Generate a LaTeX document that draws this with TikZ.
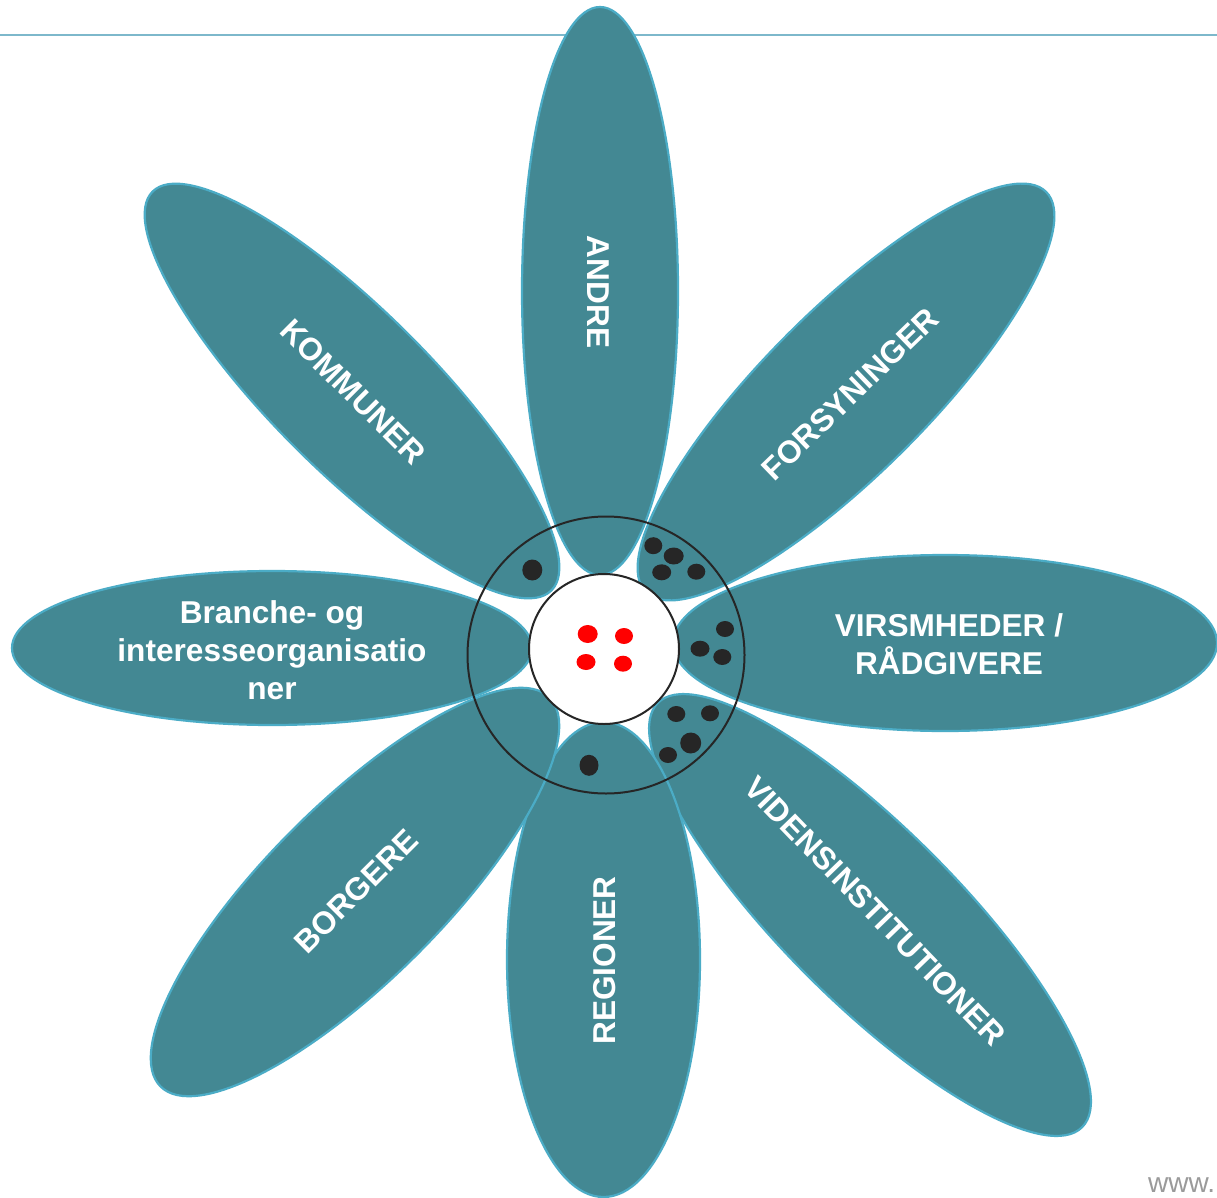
\documentclass[tikz,border=0pt]{standalone}
\usepackage{fontspec}
\setmainfont{Liberation Sans}
\usetikzlibrary{shapes.geometric}
\definecolor{petalfill}{HTML}{438893}
\definecolor{petaledge}{HTML}{4BACC6}
\definecolor{dotdark}{HTML}{262626}
\definecolor{toplinec}{HTML}{7DB8CB}
\definecolor{wwwgray}{HTML}{9A9A9A}
\begin{document}
\begin{tikzpicture}[x=1pt,y=-1pt,
  petal/.style={ellipse, fill=petalfill, draw=petaledge, line width=2.2pt, inner sep=0pt, outer sep=0pt},
  lbl/.style={text=white, font=\fontsize{31.6}{38}\selectfont\bfseries, align=center, inner sep=0pt},
  ring/.style={circle, draw=dotdark, line width=2pt, inner sep=0pt},
  bdot/.style={fill=dotdark},
  rdot/.style={fill=red}]
\useasboundingbox (0,0) rectangle (1217,1198);
\fill[white] (0,0) rectangle (1217,1198);
% top rule
\coordinate (lineL) at (0,35);
\coordinate (lineR) at (1217,35);
\draw[toplinec, line width=1.5pt] (lineL) -- (lineR);
% petals
\node[petal, minimum width=568pt, minimum height=156pt, rotate=90] (andre) at (600,291) {};
\node[petal, minimum width=566pt, minimum height=164pt, rotate=45] (forsyn) at (846,392) {};
\node[petal, minimum width=544pt, minimum height=176pt] (virs) at (945,643) {};
\node[petal, minimum width=600pt, minimum height=174pt, rotate=-45] (viden) at (870,915) {};
\node[petal, minimum width=475pt, minimum height=193pt, rotate=90] (region) at (603.5,959.5) {};
\node[petal, minimum width=550pt, minimum height=176pt, rotate=45] (borg) at (355,892) {};
\node[petal, minimum width=520pt, minimum height=154pt] (bran) at (272,648) {};
\node[petal, minimum width=564pt, minimum height=160pt, rotate=-45] (komm) at (352,391) {};
% rings
\node[ring, minimum size=277pt] (outer) at (606,655) {};
\node[ring, fill=white, minimum size=150pt] (inner) at (604,649) {};
% red dots
\fill[rdot] (587.7,634) ellipse [x radius=10, y radius=9];
\fill[rdot] (624,636) ellipse [x radius=9, y radius=8];
\fill[rdot] (586,662) ellipse [x radius=9.5, y radius=8];
\fill[rdot] (623,663.7) ellipse [x radius=9, y radius=8];
% black dots
\fill[bdot] (532.3,570) ellipse [x radius=10, y radius=10.5];
\fill[bdot] (653.3,545.7) ellipse [x radius=9, y radius=8.5];
\fill[bdot] (673.7,556) ellipse [x radius=10, y radius=8.5];
\fill[bdot] (661.7,572.3) ellipse [x radius=9.5, y radius=8];
\fill[bdot] (696.3,571.7) ellipse [x radius=9, y radius=8];
\fill[bdot] (725,629) ellipse [x radius=9, y radius=8];
\fill[bdot] (700,648.7) ellipse [x radius=9.5, y radius=8];
\fill[bdot] (722.3,657) ellipse [x radius=9, y radius=8];
\fill[bdot] (676.3,714) ellipse [x radius=9, y radius=8];
\fill[bdot] (710,713.3) ellipse [x radius=9, y radius=8];
\fill[bdot] (690.7,743) ellipse [x radius=10.5, y radius=10.5];
\fill[bdot] (668,755) ellipse [x radius=9, y radius=8];
\fill[bdot] (589,765.3) ellipse [x radius=9.5, y radius=10.5];
% labels
\node[lbl, rotate=-90] (andreL) at (598,292) {ANDRE};
\node[lbl, rotate=44] (forsynL) at (850,394) {FORSYNINGER};
\node[lbl, rotate=-45] (kommL) at (353,392) {KOMMUNER};
\node[lbl] (branL) at (272,650) {Branche- og\\interesseorganisatio\\ner};
\node[lbl] (virsL) at (949,644) {VIRSMHEDER /\\RÅDGIVERE};
\node[lbl, rotate=45] (borgL) at (356,891) {BORGERE};
\node[lbl, rotate=90] (regionL) at (604.5,960.5) {REGIONER};
\node[lbl, rotate=-46] (vidL) at (875,911) {VIDENSINSTITUTIONER};
\node[anchor=base west, text=wwwgray, font=\fontsize{28}{30}\selectfont, inner sep=0pt] (www) at (1148,1192) {www.};
\end{tikzpicture}
\end{document}
